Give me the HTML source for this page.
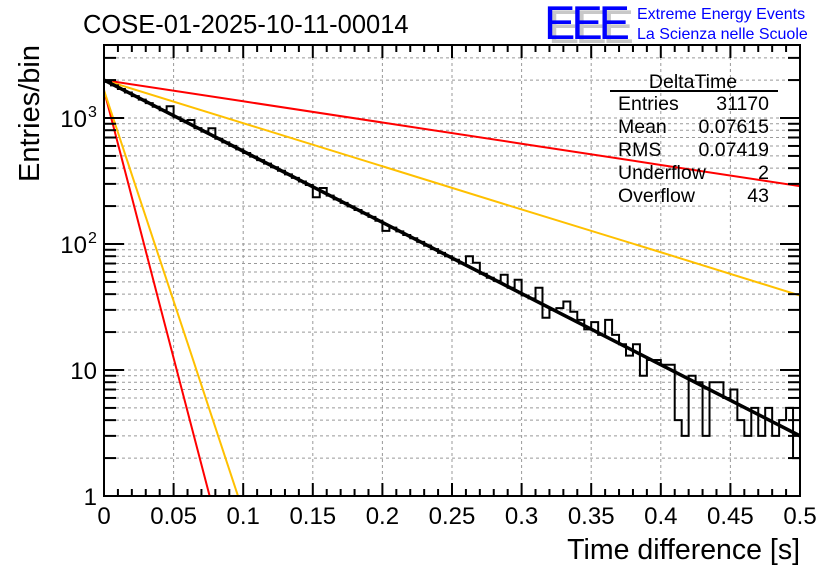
<!DOCTYPE html>
<html><head><meta charset="utf-8"><style>
body{margin:0;background:#fff;}
svg{display:block;font-family:"Liberation Sans",sans-serif;}
</style></head><body>
<svg id="c" width="836" height="572" viewBox="0 0 836 572"></svg>
<script>
const histCounts=[1936,1814,1700,1593,1493,1399,1311,1228,1151,1240,1011,947,965,832,779,830,684,641,601,563,528,494,463,434,407,381,357,335,313,294,235,278,242,226,212,199,186,175,164,153,127,135,126,118,111,104,97,91,85,80,75,70,80,71,58,54,51,57,45,52,39,37,45,26,30,31,35,29,25,21,24,19,25,19,16,13,16,9,12,12,11,11,4,3,9,8,3,8,8,6,7,4,3,5,3,5,3,4,5,2];
const binWidth=0.005;
const fitT=[0,0.5];
const fitY=[2000,3];
const redSlowT=[0,0.1,0.2,0.3,0.4,0.5];
const redSlowY=[2000,1357,921,625,424,288];
const yelSlowT=[0,0.1,0.2,0.3,0.4,0.5];
const yelSlowY=[2000,910,414,188,86,39];
const redFastT=[0,0.02,0.04,0.06,0.08];
const redFastY=[1660,235,33,4.7,0.67];
const yelFastT=[0,0.02,0.04,0.06,0.08,0.1];
const yelFastY=[1660,355,76,16.4,3.5,0.75];
const xTicks=["0","0.05","0.1","0.15","0.2","0.25","0.3","0.35","0.4","0.45","0.5"];
const statLabels=["Entries","Mean","RMS","Underflow","Overflow"];
const statValues=["31170","0.07615","0.07419","2","43"];

const NS="http://www.w3.org/2000/svg";
const svg=document.getElementById('c');
const X0=104,X1=800,YB=496,YT=45,DEC=126;
function sx(t){return X0+(t/0.5)*(X1-X0);}
function sy(v){return YB-Math.log10(v)*DEC;}
function mk(tag,attrs,parent){const e=document.createElementNS(NS,tag);for(const k in attrs)e.setAttribute(k,attrs[k]);(parent||svg).appendChild(e);return e;}

const defs=mk('defs',{});
const cp=mk('clipPath',{id:'pc'},defs);
mk('rect',{x:X0,y:YT,width:X1-X0,height:YB-YT},cp);

const grid=mk('g',{stroke:'#999','stroke-width':1,'stroke-dasharray':'3,3'});


for(let i=1;i<10;i++){const x=sx(i*0.05);mk('line',{x1:x,x2:x,y1:YT,y2:YB},grid);}
for(let d=0;d<4;d++)for(let m=1;m<10;m++){const v=m*Math.pow(10,d);const y=sy(v);if(y<=YT+1||y>=YB-1)continue;mk('line',{x1:X0,x2:X1,y1:y,y2:y},grid);}

const plot=mk('g',{'clip-path':'url(#pc)'});
function curve(ts,ys,color,w,name){
  const p=mk('polyline',{points:ts.map((t,i)=>sx(t)+','+sy(ys[i])).join(' '),fill:'none',stroke:color,'stroke-width':w},plot);
  
  
}
curve(redSlowT,redSlowY,'#ff0000',2,'red-slow-curve');
curve(yelSlowT,yelSlowY,'#ffc000',2,'yellow-slow-curve');
curve(redFastT,redFastY,'#ff0000',2,'red-fast-curve');
curve(yelFastT,yelFastY,'#ffc000',2,'yellow-fast-curve');

let pts=[];
histCounts.forEach((c,i)=>{const y=sy(c);pts.push(sx(i*binWidth)+','+y);pts.push(sx((i+1)*binWidth)+','+y);});
const h=mk('polyline',{points:pts.join(' '),fill:'none',stroke:'#000','stroke-width':2},plot);


curve(fitT,fitY,'#000',3.5,'fit-line');

const ax=mk('g',{stroke:'#000','stroke-width':2,fill:'none'});


mk('rect',{x:X0,y:YT,width:X1-X0,height:YB-YT},ax);
for(let i=0;i<=50;i++){const x=sx(i*0.01);const L=(i%5==0)?13:7;mk('line',{x1:x,x2:x,y1:YB,y2:YB-L},ax);mk('line',{x1:x,x2:x,y1:YT,y2:YT+L},ax);}
for(let d=0;d<4;d++)for(let m=1;m<10;m++){const y=sy(m*Math.pow(10,d));if(y<YT)continue;const L=m==1?20:12;mk('line',{x1:X0,x2:X0+L,y1:y,y2:y},ax);mk('line',{x1:X1,x2:X1-L,y1:y,y2:y},ax);}

xTicks.forEach((s,i)=>{const t=mk('text',{x:sx(i*0.05),y:524,'font-size':24,'text-anchor':'middle'});t.textContent=s;

});
function ylab(y,base,exp){const t=mk('text',{x:exp?87:97,y:y+9,'font-size':24,'text-anchor':'end'});t.textContent=base;


if(exp){const e=mk('text',{x:88,y:y-1,'font-size':16});e.textContent=exp;}}
ylab(sy(1),'1');ylab(sy(10),'10');ylab(sy(100),'10','2');ylab(sy(1000),'10','3');

const xt=mk('text',{x:800,y:559,'font-size':28.5,'text-anchor':'end'});xt.textContent='Time difference [s]';


const yt=mk('text',{x:0,y:0,'font-size':29,'text-anchor':'end',transform:'translate(39,45) rotate(-90)'});yt.textContent='Entries/bin';


const tt=mk('text',{x:83,y:33,'font-size':25.5});tt.textContent='COSE-01-2025-10-11-00014';



const lg=mk('g',{});


mk('text',{x:548,y:43,'font-size':47,fill:'#c8c8c8','textLength':86},lg).textContent='EEE';
mk('text',{x:544,y:39,'font-size':47,fill:'#0000ff','textLength':86},lg).textContent='EEE';
mk('text',{x:637,y:19,'font-size':16,fill:'#0000ff'},lg).textContent='Extreme Energy Events';
mk('text',{x:637,y:39,'font-size':16,fill:'#0000ff'},lg).textContent='La Scienza nelle Scuole';

const st=mk('g',{'font-size':19.5});


mk('text',{x:693,y:88,'text-anchor':'middle'},st).textContent='DeltaTime';
mk('line',{x1:610,x2:778,y1:91,y2:91,stroke:'#000','stroke-width':2},st);
statLabels.forEach((s,i)=>{const y=110+i*23;mk('text',{x:618,y:y},st).textContent=s;mk('text',{x:769,y:y,'text-anchor':'end'},st).textContent=statValues[i];});
</script>
</body></html>
